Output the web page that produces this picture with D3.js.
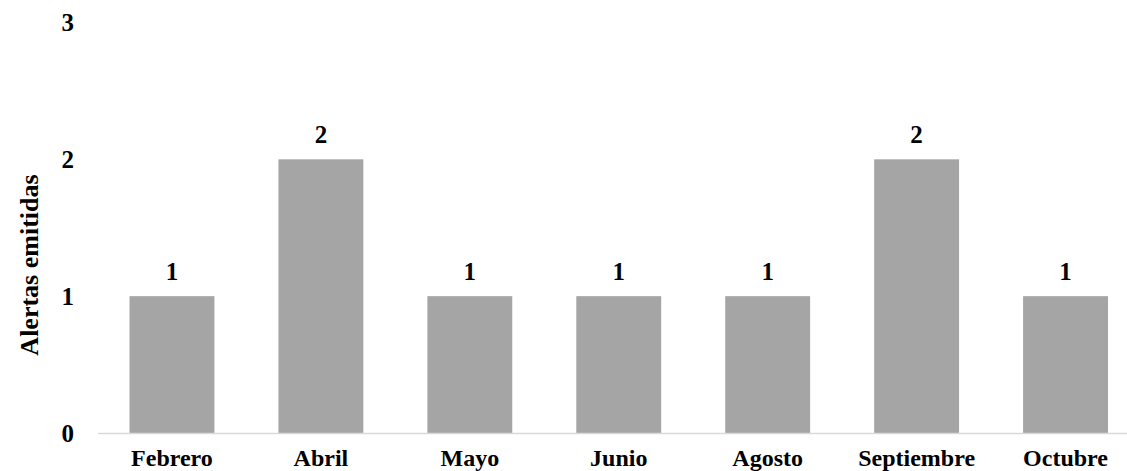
<!DOCTYPE html>
<html>
<head>
<meta charset="utf-8">
<script src="https://cdn.jsdelivr.net/npm/d3@7"></script>
<style>
  html, body { margin: 0; padding: 0; background: #fff; }
  svg { display: block; }
  text { font-family: "Liberation Serif", "Times New Roman", serif; font-weight: bold; fill: #000; font-size: 24px; }
</style>
</head>
<body>
<svg id="chart" width="1127" height="471"></svg>
<script>
// Alerts issued per month
const months = ["Febrero", "Abril", "Mayo", "Junio", "Agosto", "Septiembre", "Octubre"];
const alerts = [1, 2, 1, 1, 1, 2, 1];
const yTicks = [0, 1, 2, 3];
const yTitle = "Alertas emitidas";

const svg = d3.select("#chart");

const x = d3.scaleBand()
  .domain(months)
  .range([97.5, 1140])
  .paddingInner(0.43)
  .paddingOuter(0.215);

const y = d3.scaleLinear()
  .domain([0, 3])
  .range([433, 22.5]);

// Bars
svg.append("g")
  .selectAll("rect")
  .data(months)
  .join("rect")
  .attr("x", d => x(d))
  .attr("width", x.bandwidth())
  .attr("y", (d, i) => y(alerts[i]))
  .attr("height", (d, i) => y(0) - y(alerts[i]))
  .attr("fill", "#a5a5a5");

// Baseline (category axis)
const xAxis = svg.append("g")
  .attr("transform", `translate(0,${y(0)})`)
  .call(d3.axisBottom(x).tickSize(0));
xAxis.select(".domain").attr("stroke", "#d9d9d9").attr("stroke-width", 1.5);
xAxis.selectAll("text")
  .attr("dy", null)
  .attr("y", 33);

// Value axis: labels only
const yAxis = svg.append("g")
  .attr("transform", "translate(74,0)")
  .call(d3.axisLeft(y).tickValues(yTicks).tickFormat(d3.format("d")).tickSize(0).tickPadding(0));
yAxis.select(".domain").remove();
yAxis.selectAll("text").style("font-size", "25px");

// Value labels above bars
svg.append("g")
  .selectAll("text")
  .data(months)
  .join("text")
  .attr("x", d => x(d) + x.bandwidth() / 2)
  .attr("y", (d, i) => y(alerts[i]) - 16)
  .attr("text-anchor", "middle")
  .style("font-size", "25px")
  .text((d, i) => alerts[i]);

// Axis title
svg.append("text")
  .attr("transform", "translate(38,265) rotate(-90)")
  .attr("text-anchor", "middle")
  .style("font-size", "26px")
  .text(yTitle);
</script>
</body>
</html>
